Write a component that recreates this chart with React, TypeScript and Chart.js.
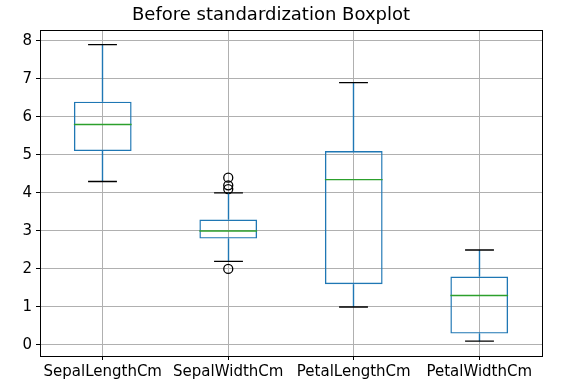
import React, { useEffect, useRef } from "react";
import { Chart, registerables } from "chart.js";

Chart.register(...registerables);

const categories = ["SepalLengthCm", "SepalWidthCm", "PetalLengthCm", "PetalWidthCm"];
const whiskerLow = [4.3, 2.2, 1.0, 0.1];
const q1 = [5.1, 2.8, 1.6, 0.3];
const median = [5.8, 3.0, 4.35, 1.3];
const q3 = [6.4, 3.3, 5.1, 1.8];
const whiskerHigh = [7.9, 4.0, 6.9, 2.5];
const outlierCategory = ["SepalWidthCm", "SepalWidthCm", "SepalWidthCm", "SepalWidthCm"];
const outlierValues = [4.4, 4.1, 4.2, 2.0];
const yTicks = [0, 1, 2, 3, 4, 5, 6, 7, 8];

const FONT = "'DejaVu Sans', sans-serif";
const LW = 1.4;

const boxPlugin = {
  id: "boxParts",
  afterDatasetsDraw(chart: any) {
    const ctx = chart.ctx;
    const xs = chart.scales.x;
    const ys = chart.scales.y;
    const meta = chart.getDatasetMeta(0);
    ctx.save();
    ctx.lineWidth = LW;
    categories.forEach((_, i) => {
      const bar = meta.data[i];
      const half = bar.width / 2;
      const cx = Math.round(xs.getPixelForValue(i) - 0.5) + 0.5;
      const yLow = ys.getPixelForValue(whiskerLow[i]);
      const yQ1 = ys.getPixelForValue(q1[i]);
      const yQ3 = ys.getPixelForValue(q3[i]);
      const yHigh = ys.getPixelForValue(whiskerHigh[i]);
      const yMed = ys.getPixelForValue(median[i]);
      ctx.strokeStyle = "#1f77b4";
      ctx.beginPath();
      ctx.moveTo(cx, yQ3);
      ctx.lineTo(cx, yHigh);
      ctx.moveTo(cx, yQ1);
      ctx.lineTo(cx, yLow);
      ctx.stroke();
      ctx.strokeStyle = "#000000";
      ctx.beginPath();
      ctx.moveTo(cx - half / 2, yHigh);
      ctx.lineTo(cx + half / 2, yHigh);
      ctx.moveTo(cx - half / 2, yLow);
      ctx.lineTo(cx + half / 2, yLow);
      ctx.stroke();
      ctx.strokeStyle = "#2ca02c";
      ctx.beginPath();
      ctx.moveTo(bar.x - half, yMed);
      ctx.lineTo(bar.x + half, yMed);
      ctx.stroke();
    });
    ctx.restore();
  },
  afterDraw(chart: any) {
    const { left, right, top, bottom } = chart.chartArea;
    const ctx = chart.ctx;
    ctx.save();
    ctx.strokeStyle = "#000000";
    ctx.lineWidth = 1;
    ctx.strokeRect(Math.round(left) + 0.5, Math.round(top) + 0.5, Math.round(right - left), Math.round(bottom - top));
    ctx.restore();
  },
};

export default function App() {
  const ref = useRef<HTMLCanvasElement>(null);
  useEffect(() => {
    if (!ref.current) return;
    const chart = new Chart(ref.current, {
      type: "bar",
      data: {
        labels: categories,
        datasets: [
          {
            type: "bar",
            data: categories.map((_, i) => [q1[i], q3[i]]),
            backgroundColor: "rgba(0,0,0,0)",
            borderColor: "#1f77b4",
            borderWidth: LW,
            borderSkipped: false,
            barPercentage: 0.46,
            categoryPercentage: 1,
          } as any,
          {
            type: "line",
            data: outlierValues.map((v, i) => ({ x: outlierCategory[i], y: v })),
            showLine: false,
            pointStyle: "circle",
            pointRadius: 4.5,
            pointBorderWidth: 1.3,
            pointBorderColor: "#000000",
            pointBackgroundColor: "rgba(0,0,0,0)",
          } as any,
        ],
      },
      options: {
        animation: false,
        responsive: true,
        maintainAspectRatio: false,
        layout: { padding: { left: 0, right: 41, top: 0, bottom: 0 } },
        plugins: {
          legend: { display: false },
          tooltip: { enabled: false },
          title: {
            display: true,
            text: "Before standardization Boxplot",
            color: "#000000",
            font: { family: FONT, size: 18, weight: "normal" },
            padding: { top: 5, bottom: 3.6 },
          },
        },
        scales: {
          x: {
            type: "category",
            offset: true,
            grid: { offset: false, color: "#b0b0b0", tickColor: "#000000", tickLength: 4, drawTicks: true },
            border: { display: false },
            ticks: { color: "#000000", font: { family: FONT, size: 15 }, padding: 3, maxRotation: 0, autoSkip: false },
            afterFit: (s: any) => { s.height = 34; },
          },
          y: {
            type: "linear",
            min: -0.29,
            max: 8.28,
            afterBuildTicks: (s: any) => { s.ticks = yTicks.map((v) => ({ value: v })); },
            grid: { color: "#b0b0b0", tickColor: "#000000", tickLength: 4 },
            border: { display: false },
            ticks: { color: "#000000", font: { family: FONT, size: 15 }, padding: 4 },
            afterFit: (s: any) => { s.width = 40; },
          },
        },
      },
      plugins: [boxPlugin],
    });
    return () => chart.destroy();
  }, []);
  return (
    <div style={{ position: "fixed", left: 0, top: 0, width: 583, height: 390, background: "#ffffff" }}>
      <canvas ref={ref} />
    </div>
  );
}
